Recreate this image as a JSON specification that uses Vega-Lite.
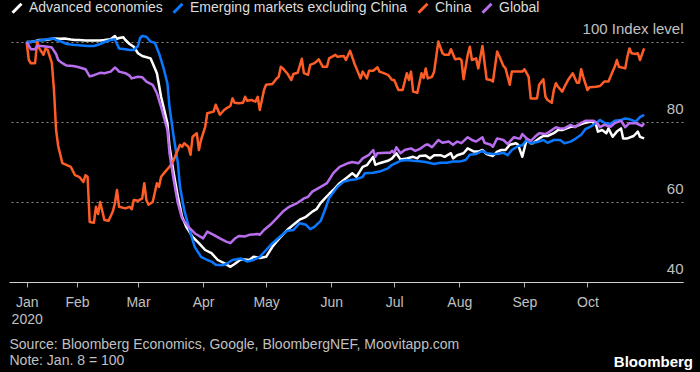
{
"$schema": "https://vega.github.io/schema/vega-lite/v6.json",
"width": 674, "height": 248,
"autosize": {"type": "none"},
"padding": {"left": 9, "top": 34, "right": 17, "bottom": 90},
"background": "#000000",
"title": {"text": "Bloomberg", "orient": "bottom", "anchor": "end", "frame": "group", "offset": -12, "dx": 10, "font": "Liberation Sans", "fontSize": 15, "fontWeight": "bold", "color": "#ffffff", "baseline": "top"},
"data": {"values": [
{"date":"2020-01-08","series":"Advanced economies","value":100},{"date":"2020-01-10","series":"Advanced economies","value":100},{"date":"2020-01-12","series":"Advanced economies","value":100.2},{"date":"2020-01-14","series":"Advanced economies","value":100.5},{"date":"2020-01-17","series":"Advanced economies","value":100.5},{"date":"2020-01-19","series":"Advanced economies","value":100.7},{"date":"2020-01-21","series":"Advanced economies","value":100.9},{"date":"2020-01-24","series":"Advanced economies","value":100.8},{"date":"2020-01-26","series":"Advanced economies","value":100.9},{"date":"2020-01-29","series":"Advanced economies","value":100.6},{"date":"2020-01-31","series":"Advanced economies","value":100.5},{"date":"2020-02-02","series":"Advanced economies","value":100.5},{"date":"2020-02-05","series":"Advanced economies","value":100.4},{"date":"2020-02-07","series":"Advanced economies","value":100.4},{"date":"2020-02-09","series":"Advanced economies","value":100.4},{"date":"2020-02-12","series":"Advanced economies","value":100.4},{"date":"2020-02-14","series":"Advanced economies","value":100.5},{"date":"2020-02-17","series":"Advanced economies","value":100.7},{"date":"2020-02-19","series":"Advanced economies","value":101.5},{"date":"2020-02-20","series":"Advanced economies","value":100.8},{"date":"2020-02-21","series":"Advanced economies","value":101},{"date":"2020-02-23","series":"Advanced economies","value":101.2},{"date":"2020-02-24","series":"Advanced economies","value":100.5},{"date":"2020-02-26","series":"Advanced economies","value":99.5},{"date":"2020-02-28","series":"Advanced economies","value":98.8},{"date":"2020-03-01","series":"Advanced economies","value":97.2},{"date":"2020-03-03","series":"Advanced economies","value":96.5},{"date":"2020-03-07","series":"Advanced economies","value":95.9},{"date":"2020-03-08","series":"Advanced economies","value":94.7},{"date":"2020-03-10","series":"Advanced economies","value":92.2},{"date":"2020-03-12","series":"Advanced economies","value":86.3},{"date":"2020-03-15","series":"Advanced economies","value":79.7},{"date":"2020-03-16","series":"Advanced economies","value":73.8},{"date":"2020-03-18","series":"Advanced economies","value":67.2},{"date":"2020-03-20","series":"Advanced economies","value":61.3},{"date":"2020-03-22","series":"Advanced economies","value":56.3},{"date":"2020-03-24","series":"Advanced economies","value":53.8},{"date":"2020-03-27","series":"Advanced economies","value":51.3},{"date":"2020-03-30","series":"Advanced economies","value":49.7},{"date":"2020-04-02","series":"Advanced economies","value":48},{"date":"2020-04-05","series":"Advanced economies","value":47.2},{"date":"2020-04-08","series":"Advanced economies","value":45.5},{"date":"2020-04-11","series":"Advanced economies","value":44.7},{"date":"2020-04-14","series":"Advanced economies","value":43.8},{"date":"2020-04-16","series":"Advanced economies","value":44.5},{"date":"2020-04-19","series":"Advanced economies","value":45.7},{"date":"2020-04-21","series":"Advanced economies","value":45.6},{"date":"2020-04-23","series":"Advanced economies","value":45.5},{"date":"2020-04-25","series":"Advanced economies","value":46.3},{"date":"2020-04-28","series":"Advanced economies","value":46},{"date":"2020-05-01","series":"Advanced economies","value":46.3},{"date":"2020-05-04","series":"Advanced economies","value":48.8},{"date":"2020-05-08","series":"Advanced economies","value":51.3},{"date":"2020-05-11","series":"Advanced economies","value":53},{"date":"2020-05-14","series":"Advanced economies","value":54.3},{"date":"2020-05-17","series":"Advanced economies","value":55.6},{"date":"2020-05-20","series":"Advanced economies","value":56.3},{"date":"2020-05-23","series":"Advanced economies","value":57.6},{"date":"2020-05-25","series":"Advanced economies","value":58.2},{"date":"2020-05-27","series":"Advanced economies","value":59.8},{"date":"2020-05-29","series":"Advanced economies","value":60.9},{"date":"2020-05-31","series":"Advanced economies","value":62},{"date":"2020-06-02","series":"Advanced economies","value":63},{"date":"2020-06-05","series":"Advanced economies","value":64.7},{"date":"2020-06-09","series":"Advanced economies","value":66.3},{"date":"2020-06-11","series":"Advanced economies","value":67.2},{"date":"2020-06-13","series":"Advanced economies","value":66.3},{"date":"2020-06-16","series":"Advanced economies","value":68.8},{"date":"2020-06-18","series":"Advanced economies","value":69.2},{"date":"2020-06-21","series":"Advanced economies","value":71.3},{"date":"2020-06-22","series":"Advanced economies","value":69.3},{"date":"2020-06-24","series":"Advanced economies","value":69.7},{"date":"2020-06-28","series":"Advanced economies","value":70.3},{"date":"2020-06-30","series":"Advanced economies","value":70.9},{"date":"2020-07-02","series":"Advanced economies","value":72.2},{"date":"2020-07-04","series":"Advanced economies","value":70.6},{"date":"2020-07-07","series":"Advanced economies","value":70.9},{"date":"2020-07-10","series":"Advanced economies","value":71.3},{"date":"2020-07-12","series":"Advanced economies","value":70.9},{"date":"2020-07-13","series":"Advanced economies","value":71.5},{"date":"2020-07-16","series":"Advanced economies","value":71.6},{"date":"2020-07-18","series":"Advanced economies","value":70.9},{"date":"2020-07-20","series":"Advanced economies","value":71.7},{"date":"2020-07-23","series":"Advanced economies","value":71.7},{"date":"2020-07-25","series":"Advanced economies","value":71.3},{"date":"2020-07-28","series":"Advanced economies","value":72.2},{"date":"2020-07-29","series":"Advanced economies","value":70.9},{"date":"2020-07-31","series":"Advanced economies","value":71.7},{"date":"2020-08-03","series":"Advanced economies","value":72.2},{"date":"2020-08-05","series":"Advanced economies","value":73.4},{"date":"2020-08-08","series":"Advanced economies","value":72.6},{"date":"2020-08-10","series":"Advanced economies","value":72.6},{"date":"2020-08-12","series":"Advanced economies","value":73},{"date":"2020-08-14","series":"Advanced economies","value":72},{"date":"2020-08-17","series":"Advanced economies","value":71.5},{"date":"2020-08-19","series":"Advanced economies","value":72.6},{"date":"2020-08-21","series":"Advanced economies","value":73},{"date":"2020-08-23","series":"Advanced economies","value":73},{"date":"2020-08-25","series":"Advanced economies","value":74.3},{"date":"2020-08-28","series":"Advanced economies","value":74.7},{"date":"2020-08-29","series":"Advanced economies","value":74.3},{"date":"2020-08-31","series":"Advanced economies","value":71.3},{"date":"2020-09-02","series":"Advanced economies","value":75.5},{"date":"2020-09-04","series":"Advanced economies","value":74.7},{"date":"2020-09-05","series":"Advanced economies","value":74.7},{"date":"2020-09-08","series":"Advanced economies","value":75.9},{"date":"2020-09-10","series":"Advanced economies","value":76.5},{"date":"2020-09-12","series":"Advanced economies","value":76.5},{"date":"2020-09-15","series":"Advanced economies","value":77.2},{"date":"2020-09-17","series":"Advanced economies","value":78},{"date":"2020-09-19","series":"Advanced economies","value":78},{"date":"2020-09-23","series":"Advanced economies","value":78.8},{"date":"2020-09-25","series":"Advanced economies","value":78.8},{"date":"2020-09-28","series":"Advanced economies","value":79.5},{"date":"2020-09-30","series":"Advanced economies","value":79.8},{"date":"2020-10-03","series":"Advanced economies","value":80.1},{"date":"2020-10-05","series":"Advanced economies","value":79.5},{"date":"2020-10-06","series":"Advanced economies","value":77.6},{"date":"2020-10-08","series":"Advanced economies","value":78},{"date":"2020-10-10","series":"Advanced economies","value":77.2},{"date":"2020-10-11","series":"Advanced economies","value":78.4},{"date":"2020-10-13","series":"Advanced economies","value":76.3},{"date":"2020-10-15","series":"Advanced economies","value":77.6},{"date":"2020-10-17","series":"Advanced economies","value":78.4},{"date":"2020-10-18","series":"Advanced economies","value":75.9},{"date":"2020-10-20","series":"Advanced economies","value":75.9},{"date":"2020-10-23","series":"Advanced economies","value":76.5},{"date":"2020-10-25","series":"Advanced economies","value":77.6},{"date":"2020-10-26","series":"Advanced economies","value":76.3},{"date":"2020-10-28","series":"Advanced economies","value":75.9},
{"date":"2020-01-08","series":"Emerging markets excluding China","value":100},{"date":"2020-01-10","series":"Emerging markets excluding China","value":100},{"date":"2020-01-12","series":"Emerging markets excluding China","value":100.2},{"date":"2020-01-14","series":"Emerging markets excluding China","value":100.4},{"date":"2020-01-17","series":"Emerging markets excluding China","value":100.6},{"date":"2020-01-19","series":"Emerging markets excluding China","value":100.8},{"date":"2020-01-21","series":"Emerging markets excluding China","value":100.9},{"date":"2020-01-22","series":"Emerging markets excluding China","value":100.5},{"date":"2020-01-25","series":"Emerging markets excluding China","value":100},{"date":"2020-01-27","series":"Emerging markets excluding China","value":99.5},{"date":"2020-01-30","series":"Emerging markets excluding China","value":99.3},{"date":"2020-02-02","series":"Emerging markets excluding China","value":99.2},{"date":"2020-02-06","series":"Emerging markets excluding China","value":99},{"date":"2020-02-09","series":"Emerging markets excluding China","value":99},{"date":"2020-02-12","series":"Emerging markets excluding China","value":99.5},{"date":"2020-02-14","series":"Emerging markets excluding China","value":100},{"date":"2020-02-17","series":"Emerging markets excluding China","value":100.5},{"date":"2020-02-19","series":"Emerging markets excluding China","value":100.7},{"date":"2020-02-20","series":"Emerging markets excluding China","value":99.5},{"date":"2020-02-21","series":"Emerging markets excluding China","value":98.4},{"date":"2020-02-24","series":"Emerging markets excluding China","value":98.2},{"date":"2020-02-26","series":"Emerging markets excluding China","value":98},{"date":"2020-02-28","series":"Emerging markets excluding China","value":98},{"date":"2020-03-01","series":"Emerging markets excluding China","value":99},{"date":"2020-03-02","series":"Emerging markets excluding China","value":101},{"date":"2020-03-03","series":"Emerging markets excluding China","value":101.5},{"date":"2020-03-05","series":"Emerging markets excluding China","value":101.3},{"date":"2020-03-07","series":"Emerging markets excluding China","value":100.1},{"date":"2020-03-09","series":"Emerging markets excluding China","value":99.8},{"date":"2020-03-11","series":"Emerging markets excluding China","value":97.2},{"date":"2020-03-13","series":"Emerging markets excluding China","value":93.8},{"date":"2020-03-15","series":"Emerging markets excluding China","value":89.7},{"date":"2020-03-16","series":"Emerging markets excluding China","value":83.8},{"date":"2020-03-18","series":"Emerging markets excluding China","value":76.3},{"date":"2020-03-20","series":"Emerging markets excluding China","value":69.7},{"date":"2020-03-21","series":"Emerging markets excluding China","value":63.8},{"date":"2020-03-23","series":"Emerging markets excluding China","value":58},{"date":"2020-03-26","series":"Emerging markets excluding China","value":52.2},{"date":"2020-03-28","series":"Emerging markets excluding China","value":48.8},{"date":"2020-03-31","series":"Emerging markets excluding China","value":46.3},{"date":"2020-04-03","series":"Emerging markets excluding China","value":45.5},{"date":"2020-04-05","series":"Emerging markets excluding China","value":45.1},{"date":"2020-04-07","series":"Emerging markets excluding China","value":44.3},{"date":"2020-04-10","series":"Emerging markets excluding China","value":44.2},{"date":"2020-04-12","series":"Emerging markets excluding China","value":44.5},{"date":"2020-04-15","series":"Emerging markets excluding China","value":45.5},{"date":"2020-04-19","series":"Emerging markets excluding China","value":45.9},{"date":"2020-04-22","series":"Emerging markets excluding China","value":45.1},{"date":"2020-04-25","series":"Emerging markets excluding China","value":45.5},{"date":"2020-04-28","series":"Emerging markets excluding China","value":46.3},{"date":"2020-05-01","series":"Emerging markets excluding China","value":48},{"date":"2020-05-04","series":"Emerging markets excluding China","value":49.7},{"date":"2020-05-08","series":"Emerging markets excluding China","value":51.5},{"date":"2020-05-11","series":"Emerging markets excluding China","value":52.8},{"date":"2020-05-14","series":"Emerging markets excluding China","value":53},{"date":"2020-05-17","series":"Emerging markets excluding China","value":54.7},{"date":"2020-05-20","series":"Emerging markets excluding China","value":54.3},{"date":"2020-05-22","series":"Emerging markets excluding China","value":53.2},{"date":"2020-05-24","series":"Emerging markets excluding China","value":53.8},{"date":"2020-05-27","series":"Emerging markets excluding China","value":55.3},{"date":"2020-05-29","series":"Emerging markets excluding China","value":58},{"date":"2020-05-31","series":"Emerging markets excluding China","value":61},{"date":"2020-06-04","series":"Emerging markets excluding China","value":63.8},{"date":"2020-06-07","series":"Emerging markets excluding China","value":65.1},{"date":"2020-06-10","series":"Emerging markets excluding China","value":65.5},{"date":"2020-06-13","series":"Emerging markets excluding China","value":65.7},{"date":"2020-06-16","series":"Emerging markets excluding China","value":66.3},{"date":"2020-06-17","series":"Emerging markets excluding China","value":67.2},{"date":"2020-06-21","series":"Emerging markets excluding China","value":67.3},{"date":"2020-06-24","series":"Emerging markets excluding China","value":67.6},{"date":"2020-06-28","series":"Emerging markets excluding China","value":68.4},{"date":"2020-06-30","series":"Emerging markets excluding China","value":69.3},{"date":"2020-07-04","series":"Emerging markets excluding China","value":70.3},{"date":"2020-07-07","series":"Emerging markets excluding China","value":70.5},{"date":"2020-07-10","series":"Emerging markets excluding China","value":70.3},{"date":"2020-07-13","series":"Emerging markets excluding China","value":70.2},{"date":"2020-07-16","series":"Emerging markets excluding China","value":70},{"date":"2020-07-20","series":"Emerging markets excluding China","value":69.5},{"date":"2020-07-23","series":"Emerging markets excluding China","value":69.8},{"date":"2020-07-26","series":"Emerging markets excluding China","value":69.8},{"date":"2020-07-29","series":"Emerging markets excluding China","value":70.1},{"date":"2020-08-01","series":"Emerging markets excluding China","value":70.1},{"date":"2020-08-04","series":"Emerging markets excluding China","value":70.5},{"date":"2020-08-06","series":"Emerging markets excluding China","value":71.8},{"date":"2020-08-09","series":"Emerging markets excluding China","value":72},{"date":"2020-08-12","series":"Emerging markets excluding China","value":72.8},{"date":"2020-08-14","series":"Emerging markets excluding China","value":72.2},{"date":"2020-08-17","series":"Emerging markets excluding China","value":72},{"date":"2020-08-19","series":"Emerging markets excluding China","value":72},{"date":"2020-08-22","series":"Emerging markets excluding China","value":72.3},{"date":"2020-08-24","series":"Emerging markets excluding China","value":71.7},{"date":"2020-08-26","series":"Emerging markets excluding China","value":73},{"date":"2020-08-29","series":"Emerging markets excluding China","value":74},{"date":"2020-08-31","series":"Emerging markets excluding China","value":74.2},{"date":"2020-09-02","series":"Emerging markets excluding China","value":75.5},{"date":"2020-09-04","series":"Emerging markets excluding China","value":74.7},{"date":"2020-09-07","series":"Emerging markets excluding China","value":75},{"date":"2020-09-10","series":"Emerging markets excluding China","value":75.5},{"date":"2020-09-12","series":"Emerging markets excluding China","value":74.8},{"date":"2020-09-15","series":"Emerging markets excluding China","value":75.5},{"date":"2020-09-18","series":"Emerging markets excluding China","value":75.5},{"date":"2020-09-20","series":"Emerging markets excluding China","value":74.7},{"date":"2020-09-23","series":"Emerging markets excluding China","value":75.1},{"date":"2020-09-25","series":"Emerging markets excluding China","value":75.7},{"date":"2020-09-28","series":"Emerging markets excluding China","value":76.8},{"date":"2020-09-30","series":"Emerging markets excluding China","value":78.2},{"date":"2020-10-02","series":"Emerging markets excluding China","value":78.7},{"date":"2020-10-05","series":"Emerging markets excluding China","value":79.7},{"date":"2020-10-07","series":"Emerging markets excluding China","value":80.5},{"date":"2020-10-09","series":"Emerging markets excluding China","value":79.8},{"date":"2020-10-12","series":"Emerging markets excluding China","value":79.5},{"date":"2020-10-14","series":"Emerging markets excluding China","value":80.3},{"date":"2020-10-17","series":"Emerging markets excluding China","value":80.5},{"date":"2020-10-19","series":"Emerging markets excluding China","value":80.9},{"date":"2020-10-21","series":"Emerging markets excluding China","value":80.7},{"date":"2020-10-24","series":"Emerging markets excluding China","value":80.1},{"date":"2020-10-26","series":"Emerging markets excluding China","value":81.2},{"date":"2020-10-28","series":"Emerging markets excluding China","value":81.8},
{"date":"2020-01-08","series":"China","value":100},{"date":"2020-01-09","series":"China","value":95.5},{"date":"2020-01-10","series":"China","value":94.7},{"date":"2020-01-12","series":"China","value":94.7},{"date":"2020-01-13","series":"China","value":100},{"date":"2020-01-14","series":"China","value":98.4},{"date":"2020-01-16","series":"China","value":96.8},{"date":"2020-01-17","series":"China","value":98.4},{"date":"2020-01-18","series":"China","value":98},{"date":"2020-01-20","series":"China","value":94.7},{"date":"2020-01-21","series":"China","value":88},{"date":"2020-01-22","series":"China","value":78},{"date":"2020-01-23","series":"China","value":74},{"date":"2020-01-25","series":"China","value":69.7},{"date":"2020-01-29","series":"China","value":68.8},{"date":"2020-01-31","series":"China","value":66.7},{"date":"2020-02-02","series":"China","value":66.3},{"date":"2020-02-04","series":"China","value":65},{"date":"2020-02-05","series":"China","value":66.7},{"date":"2020-02-06","series":"China","value":66.3},{"date":"2020-02-07","series":"China","value":55},{"date":"2020-02-09","series":"China","value":54.8},{"date":"2020-02-10","series":"China","value":58.8},{"date":"2020-02-11","series":"China","value":57},{"date":"2020-02-12","series":"China","value":60},{"date":"2020-02-14","series":"China","value":55.5},{"date":"2020-02-16","series":"China","value":55.3},{"date":"2020-02-18","series":"China","value":57.6},{"date":"2020-02-19","series":"China","value":59.7},{"date":"2020-02-20","series":"China","value":63},{"date":"2020-02-21","series":"China","value":58.8},{"date":"2020-02-24","series":"China","value":58.4},{"date":"2020-02-26","series":"China","value":58.8},{"date":"2020-02-27","series":"China","value":58.2},{"date":"2020-02-28","series":"China","value":60.5},{"date":"2020-03-01","series":"China","value":60.3},{"date":"2020-03-03","series":"China","value":60.9},{"date":"2020-03-04","series":"China","value":64.7},{"date":"2020-03-05","series":"China","value":60.5},{"date":"2020-03-06","series":"China","value":59.3},{"date":"2020-03-08","series":"China","value":60},{"date":"2020-03-10","series":"China","value":64.7},{"date":"2020-03-11","series":"China","value":63.8},{"date":"2020-03-12","series":"China","value":66.3},{"date":"2020-03-14","series":"China","value":67.6},{"date":"2020-03-16","series":"China","value":68.8},{"date":"2020-03-18","series":"China","value":70.5},{"date":"2020-03-19","series":"China","value":71.8},{"date":"2020-03-21","series":"China","value":74.3},{"date":"2020-03-22","series":"China","value":73.8},{"date":"2020-03-23","series":"China","value":74.7},{"date":"2020-03-25","series":"China","value":73.8},{"date":"2020-03-26","series":"China","value":71.8},{"date":"2020-03-27","series":"China","value":76.3},{"date":"2020-03-29","series":"China","value":77.2},{"date":"2020-03-30","series":"China","value":73},{"date":"2020-03-31","series":"China","value":75.5},{"date":"2020-04-02","series":"China","value":78.8},{"date":"2020-04-03","series":"China","value":82.2},{"date":"2020-04-06","series":"China","value":82.6},{"date":"2020-04-07","series":"China","value":84.3},{"date":"2020-04-09","series":"China","value":81.8},{"date":"2020-04-11","series":"China","value":83},{"date":"2020-04-12","series":"China","value":83.4},{"date":"2020-04-14","series":"China","value":84},{"date":"2020-04-15","series":"China","value":85.9},{"date":"2020-04-16","series":"China","value":84.8},{"date":"2020-04-18","series":"China","value":84.7},{"date":"2020-04-20","series":"China","value":84.8},{"date":"2020-04-21","series":"China","value":86.3},{"date":"2020-04-22","series":"China","value":85.3},{"date":"2020-04-24","series":"China","value":85.5},{"date":"2020-04-26","series":"China","value":85.1},{"date":"2020-04-27","series":"China","value":86.3},{"date":"2020-04-28","series":"China","value":83},{"date":"2020-04-30","series":"China","value":88},{"date":"2020-05-01","series":"China","value":89.3},{"date":"2020-05-04","series":"China","value":89.5},{"date":"2020-05-06","series":"China","value":90.9},{"date":"2020-05-07","series":"China","value":91.3},{"date":"2020-05-08","series":"China","value":93.8},{"date":"2020-05-09","series":"China","value":93.4},{"date":"2020-05-11","series":"China","value":92.2},{"date":"2020-05-13","series":"China","value":90.5},{"date":"2020-05-14","series":"China","value":92},{"date":"2020-05-16","series":"China","value":92.3},{"date":"2020-05-17","series":"China","value":94},{"date":"2020-05-18","series":"China","value":95.8},{"date":"2020-05-19","series":"China","value":92.2},{"date":"2020-05-21","series":"China","value":91.8},{"date":"2020-05-22","series":"China","value":94.3},{"date":"2020-05-24","series":"China","value":94.7},{"date":"2020-05-25","series":"China","value":95.1},{"date":"2020-05-26","series":"China","value":95.7},{"date":"2020-05-28","series":"China","value":93.8},{"date":"2020-05-30","series":"China","value":93.8},{"date":"2020-05-31","series":"China","value":95.9},{"date":"2020-06-03","series":"China","value":96.8},{"date":"2020-06-04","series":"China","value":96.3},{"date":"2020-06-07","series":"China","value":96.5},{"date":"2020-06-08","series":"China","value":95.5},{"date":"2020-06-10","series":"China","value":97.8},{"date":"2020-06-12","series":"China","value":94.7},{"date":"2020-06-13","series":"China","value":93.4},{"date":"2020-06-15","series":"China","value":90.9},{"date":"2020-06-16","series":"China","value":92.6},{"date":"2020-06-18","series":"China","value":90.9},{"date":"2020-06-19","series":"China","value":92.8},{"date":"2020-06-21","series":"China","value":92.8},{"date":"2020-06-23","series":"China","value":93.7},{"date":"2020-06-24","series":"China","value":92.6},{"date":"2020-06-26","series":"China","value":92.2},{"date":"2020-06-28","series":"China","value":91.8},{"date":"2020-06-30","series":"China","value":90.5},{"date":"2020-07-01","series":"China","value":90.5},{"date":"2020-07-03","series":"China","value":88},{"date":"2020-07-05","series":"China","value":88},{"date":"2020-07-07","series":"China","value":92.2},{"date":"2020-07-08","series":"China","value":90.5},{"date":"2020-07-09","series":"China","value":92.6},{"date":"2020-07-10","series":"China","value":87.6},{"date":"2020-07-12","series":"China","value":87.3},{"date":"2020-07-14","series":"China","value":92.2},{"date":"2020-07-15","series":"China","value":91},{"date":"2020-07-16","series":"China","value":93.4},{"date":"2020-07-17","series":"China","value":90.9},{"date":"2020-07-19","series":"China","value":91.3},{"date":"2020-07-20","series":"China","value":92.6},{"date":"2020-07-22","series":"China","value":100.1},{"date":"2020-07-24","series":"China","value":97.2},{"date":"2020-07-25","series":"China","value":96.8},{"date":"2020-07-27","series":"China","value":96.8},{"date":"2020-07-28","series":"China","value":98.2},{"date":"2020-07-30","series":"China","value":95.7},{"date":"2020-08-01","series":"China","value":95.9},{"date":"2020-08-02","series":"China","value":95.5},{"date":"2020-08-03","series":"China","value":90.7},{"date":"2020-08-05","series":"China","value":96.8},{"date":"2020-08-06","series":"China","value":98.8},{"date":"2020-08-07","series":"China","value":95.5},{"date":"2020-08-09","series":"China","value":95.9},{"date":"2020-08-10","series":"China","value":93.4},{"date":"2020-08-12","series":"China","value":99},{"date":"2020-08-14","series":"China","value":90.7},{"date":"2020-08-16","series":"China","value":90.5},{"date":"2020-08-17","series":"China","value":90.1},{"date":"2020-08-19","series":"China","value":97.6},{"date":"2020-08-20","series":"China","value":96.5},{"date":"2020-08-22","series":"China","value":94},{"date":"2020-08-23","series":"China","value":93.4},{"date":"2020-08-25","series":"China","value":89.3},{"date":"2020-08-26","series":"China","value":92.6},{"date":"2020-08-28","series":"China","value":92.6},{"date":"2020-08-31","series":"China","value":92.6},{"date":"2020-09-01","series":"China","value":93.2},{"date":"2020-09-03","series":"China","value":91.3},{"date":"2020-09-04","series":"China","value":85.9},{"date":"2020-09-06","series":"China","value":85.9},{"date":"2020-09-07","series":"China","value":85.9},{"date":"2020-09-08","series":"China","value":89.3},{"date":"2020-09-10","series":"China","value":90.7},{"date":"2020-09-11","series":"China","value":86.3},{"date":"2020-09-12","series":"China","value":85.5},{"date":"2020-09-14","series":"China","value":84.8},{"date":"2020-09-15","series":"China","value":88},{"date":"2020-09-16","series":"China","value":89.7},{"date":"2020-09-17","series":"China","value":88.8},{"date":"2020-09-19","series":"China","value":87.6},{"date":"2020-09-20","series":"China","value":88.7},{"date":"2020-09-22","series":"China","value":90.7},{"date":"2020-09-24","series":"China","value":92.2},{"date":"2020-09-26","series":"China","value":89.8},{"date":"2020-09-27","series":"China","value":89.8},{"date":"2020-09-28","series":"China","value":93.2},{"date":"2020-09-29","series":"China","value":91.3},{"date":"2020-10-01","series":"China","value":88},{"date":"2020-10-02","series":"China","value":88.7},{"date":"2020-10-05","series":"China","value":88.8},{"date":"2020-10-07","series":"China","value":89},{"date":"2020-10-09","series":"China","value":90.1},{"date":"2020-10-11","series":"China","value":90.1},{"date":"2020-10-13","series":"China","value":92.6},{"date":"2020-10-14","series":"China","value":93.8},{"date":"2020-10-15","series":"China","value":95.5},{"date":"2020-10-16","series":"China","value":93.8},{"date":"2020-10-19","series":"China","value":93.4},{"date":"2020-10-20","series":"China","value":96.3},{"date":"2020-10-21","series":"China","value":98.4},{"date":"2020-10-22","series":"China","value":97.2},{"date":"2020-10-24","series":"China","value":97},{"date":"2020-10-25","series":"China","value":97.2},{"date":"2020-10-26","series":"China","value":95.5},{"date":"2020-10-28","series":"China","value":98.4},
{"date":"2020-01-08","series":"Global","value":100},{"date":"2020-01-10","series":"Global","value":98.2},{"date":"2020-01-12","series":"Global","value":98.2},{"date":"2020-01-13","series":"Global","value":99},{"date":"2020-01-15","series":"Global","value":99},{"date":"2020-01-18","series":"Global","value":98.8},{"date":"2020-01-20","series":"Global","value":98.6},{"date":"2020-01-22","series":"Global","value":97},{"date":"2020-01-23","series":"Global","value":95.5},{"date":"2020-01-25","series":"Global","value":94.7},{"date":"2020-01-27","series":"Global","value":94.1},{"date":"2020-01-30","series":"Global","value":94},{"date":"2020-02-01","series":"Global","value":93.8},{"date":"2020-02-03","series":"Global","value":93.5},{"date":"2020-02-05","series":"Global","value":93.2},{"date":"2020-02-07","series":"Global","value":91.4},{"date":"2020-02-09","series":"Global","value":91.7},{"date":"2020-02-12","series":"Global","value":92.3},{"date":"2020-02-14","series":"Global","value":92.2},{"date":"2020-02-17","series":"Global","value":92.6},{"date":"2020-02-19","series":"Global","value":93.6},{"date":"2020-02-20","series":"Global","value":93.2},{"date":"2020-02-21","series":"Global","value":92.6},{"date":"2020-02-24","series":"Global","value":92.2},{"date":"2020-02-26","series":"Global","value":91.6},{"date":"2020-02-27","series":"Global","value":90.9},{"date":"2020-03-01","series":"Global","value":91.3},{"date":"2020-03-03","series":"Global","value":91.2},{"date":"2020-03-05","series":"Global","value":90.1},{"date":"2020-03-08","series":"Global","value":89.3},{"date":"2020-03-10","series":"Global","value":87.2},{"date":"2020-03-12","series":"Global","value":83.8},{"date":"2020-03-15","series":"Global","value":78},{"date":"2020-03-16","series":"Global","value":72.2},{"date":"2020-03-18","series":"Global","value":65.5},{"date":"2020-03-20","series":"Global","value":59.7},{"date":"2020-03-22","series":"Global","value":55.9},{"date":"2020-03-25","series":"Global","value":53.8},{"date":"2020-03-28","series":"Global","value":52.2},{"date":"2020-04-01","series":"Global","value":50.9},{"date":"2020-04-03","series":"Global","value":52.6},{"date":"2020-04-06","series":"Global","value":51.8},{"date":"2020-04-09","series":"Global","value":50.9},{"date":"2020-04-12","series":"Global","value":50.1},{"date":"2020-04-14","series":"Global","value":49.7},{"date":"2020-04-16","series":"Global","value":50.8},{"date":"2020-04-18","series":"Global","value":51.5},{"date":"2020-04-21","series":"Global","value":51.4},{"date":"2020-04-23","series":"Global","value":51.8},{"date":"2020-04-27","series":"Global","value":52},{"date":"2020-04-28","series":"Global","value":51.8},{"date":"2020-04-30","series":"Global","value":53},{"date":"2020-05-03","series":"Global","value":54.3},{"date":"2020-05-06","series":"Global","value":55.9},{"date":"2020-05-09","series":"Global","value":57.6},{"date":"2020-05-12","series":"Global","value":58.8},{"date":"2020-05-16","series":"Global","value":59.8},{"date":"2020-05-19","series":"Global","value":60.9},{"date":"2020-05-21","series":"Global","value":61.3},{"date":"2020-05-23","series":"Global","value":62.6},{"date":"2020-05-27","series":"Global","value":63.8},{"date":"2020-05-30","series":"Global","value":64.7},{"date":"2020-06-02","series":"Global","value":67.2},{"date":"2020-06-05","series":"Global","value":68.8},{"date":"2020-06-09","series":"Global","value":69.7},{"date":"2020-06-11","series":"Global","value":70},{"date":"2020-06-14","series":"Global","value":69.7},{"date":"2020-06-16","series":"Global","value":70.9},{"date":"2020-06-19","series":"Global","value":71.8},{"date":"2020-06-21","series":"Global","value":73},{"date":"2020-06-22","series":"Global","value":71.3},{"date":"2020-06-23","series":"Global","value":72.2},{"date":"2020-06-27","series":"Global","value":72.3},{"date":"2020-06-29","series":"Global","value":72.3},{"date":"2020-06-30","series":"Global","value":72.8},{"date":"2020-07-01","series":"Global","value":72.2},{"date":"2020-07-02","series":"Global","value":73.7},{"date":"2020-07-04","series":"Global","value":72.2},{"date":"2020-07-06","series":"Global","value":73},{"date":"2020-07-09","series":"Global","value":73.4},{"date":"2020-07-11","series":"Global","value":72.8},{"date":"2020-07-13","series":"Global","value":73.2},{"date":"2020-07-16","series":"Global","value":74.3},{"date":"2020-07-17","series":"Global","value":74.4},{"date":"2020-07-19","series":"Global","value":73.7},{"date":"2020-07-22","series":"Global","value":75.5},{"date":"2020-07-24","series":"Global","value":74.8},{"date":"2020-07-27","series":"Global","value":75.1},{"date":"2020-07-29","series":"Global","value":74.3},{"date":"2020-07-31","series":"Global","value":75.1},{"date":"2020-08-02","series":"Global","value":74.7},{"date":"2020-08-05","series":"Global","value":76.2},{"date":"2020-08-07","series":"Global","value":75.5},{"date":"2020-08-09","series":"Global","value":75.1},{"date":"2020-08-12","series":"Global","value":76.2},{"date":"2020-08-13","series":"Global","value":74.8},{"date":"2020-08-16","series":"Global","value":74.3},{"date":"2020-08-17","series":"Global","value":73.8},{"date":"2020-08-19","series":"Global","value":75.9},{"date":"2020-08-22","series":"Global","value":75.5},{"date":"2020-08-24","series":"Global","value":74.5},{"date":"2020-08-27","series":"Global","value":76.2},{"date":"2020-08-29","series":"Global","value":75.9},{"date":"2020-08-30","series":"Global","value":75.9},{"date":"2020-08-31","series":"Global","value":77},{"date":"2020-09-02","series":"Global","value":75.9},{"date":"2020-09-04","series":"Global","value":75.3},{"date":"2020-09-06","series":"Global","value":76.3},{"date":"2020-09-08","series":"Global","value":77.2},{"date":"2020-09-11","series":"Global","value":77},{"date":"2020-09-13","series":"Global","value":77.6},{"date":"2020-09-16","series":"Global","value":78.7},{"date":"2020-09-18","series":"Global","value":78.4},{"date":"2020-09-20","series":"Global","value":78.4},{"date":"2020-09-23","series":"Global","value":79.3},{"date":"2020-09-25","series":"Global","value":78.7},{"date":"2020-09-28","series":"Global","value":79.8},{"date":"2020-09-30","series":"Global","value":80.3},{"date":"2020-10-02","series":"Global","value":80.3},{"date":"2020-10-04","series":"Global","value":80.3},{"date":"2020-10-06","series":"Global","value":79.5},{"date":"2020-10-07","series":"Global","value":78.7},{"date":"2020-10-09","series":"Global","value":79.3},{"date":"2020-10-12","series":"Global","value":78.8},{"date":"2020-10-14","series":"Global","value":79.7},{"date":"2020-10-17","series":"Global","value":80.3},{"date":"2020-10-19","series":"Global","value":78.7},{"date":"2020-10-21","series":"Global","value":79.7},{"date":"2020-10-24","series":"Global","value":79.7},{"date":"2020-10-25","series":"Global","value":79.5},{"date":"2020-10-27","series":"Global","value":79},{"date":"2020-10-28","series":"Global","value":79.7}
]},
"mark": {"type": "line", "strokeWidth": 2.5, "strokeJoin": "round"},
"encoding": {
"x": {"field": "date", "type": "temporal",
 "scale": {"type": "utc", "domain": [{"year": 2019, "month": 12, "date": 30, "hours": 14, "utc": true}, {"year": 2020, "month": 11, "date": 15, "hours": 12, "utc": true}]},
 "axis": {
  "values": [{"year":2020,"month":1,"date":8,"utc":true},{"year":2020,"month":2,"date":1,"utc":true},{"year":2020,"month":3,"date":1,"utc":true},{"year":2020,"month":4,"date":1,"utc":true},{"year":2020,"month":5,"date":1,"utc":true},{"year":2020,"month":6,"date":1,"utc":true},{"year":2020,"month":7,"date":1,"utc":true},{"year":2020,"month":8,"date":1,"utc":true},{"year":2020,"month":9,"date":1,"utc":true},{"year":2020,"month":10,"date":1,"utc":true}],
  "labelExpr": "utcmonth(datum.value) == 0 ? ['Jan', '2020'] : utcFormat(datum.value, '%b')",
  "grid": false, "domainColor": "#d0d0d0", "domainWidth": 1, "tickColor": "#b0b0b0", "tickSize": 5, "tickWidth": 1,
  "labelColor": "#c0c0c0", "labelFont": "Liberation Sans", "labelFontSize": 14, "labelPadding": 8, "labelLineHeight": 17, "labelAlign": "center", "labelBaseline": "top", "labelFlush": false, "labelOverlap": false,
  "title": ["Source: Bloomberg Economics, Google, BloombergNEF, Moovitapp.com", "Note: Jan. 8 = 100"],
  "titleAnchor": "start", "titleAlign": "left", "titleBaseline": "top", "titleX": 0, "titleY": 55, "titleFont": "Liberation Sans", "titleFontSize": 14, "titleFontWeight": "normal", "titleColor": "#c0c0c0", "titleLineHeight": 16,
  "zindex": 1
 }},
"y": {"field": "value", "type": "quantitative",
 "scale": {"domain": [40, 102], "nice": false, "zero": false},
 "axis": {"orient": "right", "values": [40, 60, 80, 100], "grid": true, "gridColor": "#8a8a8a", "gridDash": [2, 3], "gridWidth": 1, "domain": false, "ticks": false, "tickSize": 0, "labelPadding": 0, "labelOffset": -9, "labelAlign": "right", "labelBaseline": "alphabetic", "labelColor": "#c0c0c0", "labelFont": "Liberation Sans", "labelFontSize": 15, "labelExpr": "datum.value == 100 ? '100 Index level' : datum.label", "labelFlush": false, "labelOverlap": false, "labelBound": false, "labelLimit": 300, "title": null}},
"color": {"field": "series", "type": "nominal",
 "scale": {"domain": ["Advanced economies", "Emerging markets excluding China", "China", "Global"], "range": ["#ffffff", "#0a78ff", "#ff5d26", "#b96ef0"]},
 "legend": {"orient": "none", "legendX": 1, "legendY": -33, "direction": "horizontal", "columns": 4, "title": null, "symbolType": "M-1,1L1,-1", "symbolSize": 81, "symbolStrokeWidth": 3, "labelFont": "Liberation Sans", "labelFontSize": 14, "labelColor": "#dcdcdc", "labelOffset": 5, "labelLimit": 400, "columnPadding": 4, "padding": 0}}
},
"config": {"view": {"stroke": null}}
}
